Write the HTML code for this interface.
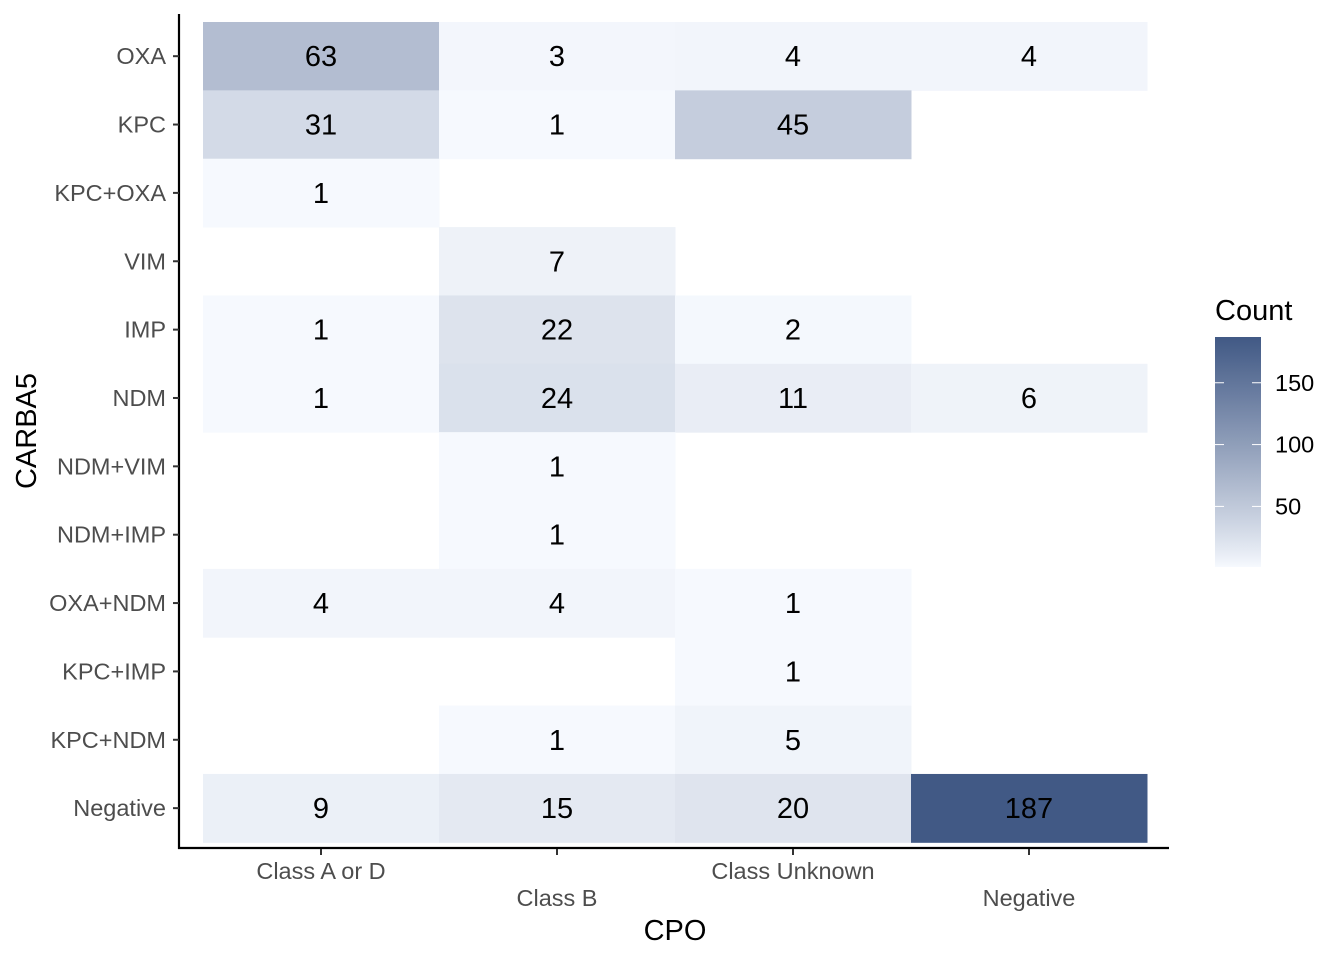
<!DOCTYPE html>
<html><head><meta charset="utf-8"><style>
body{margin:0;background:#fff;font-family:"Liberation Sans",sans-serif}
</style></head><body>
<svg id="c" width="1344" height="960" xmlns="http://www.w3.org/2000/svg"></svg>
<script>
const cols=["Class A or D","Class B","Class Unknown","Negative"];
const rows=["OXA","KPC","KPC+OXA","VIM","IMP","NDM","NDM+VIM","NDM+IMP","OXA+NDM","KPC+IMP","KPC+NDM","Negative"];
const counts=[
[63,3,4,4],
[31,1,45,null],
[1,null,null,null],
[null,7,null,null],
[1,22,2,null],
[1,24,11,6],
[null,1,null,null],
[null,1,null,null],
[4,4,1,null],
[null,null,1,null],
[null,1,5,null],
[9,15,20,187]];
const legendTicks=[50,100,150];
const vmin=1,vmax=187;
const NS="http://www.w3.org/2000/svg";
const svg=document.getElementById('c');
function mk(t,a,p){const e=document.createElementNS(NS,t);for(const k in a)e.setAttribute(k,a[k]);(p||svg).appendChild(e);return e;}
const x0=203,cw=236,y0=22,rh=68.36;
const xc=i=>x0+cw*(i+0.5), yc=j=>y0+rh*(j+0.5);
const lo=[246,249,254],hi=[65,89,133];
function col(v){let t=Math.pow((v-vmin)/(vmax-vmin),0.9);return 'rgb('+lo.map((c,k)=>Math.round(c+(hi[k]-c)*t)).join(',')+')';}
rows.forEach((r,j)=>cols.forEach((c,i)=>{const v=counts[j][i];if(v==null)return;
 const rc=mk('rect',{x:xc(i)-cw/2,y:yc(j)-rh/2,width:cw+0.5,height:rh+0.5,fill:col(v)});
 
 
 const tx=mk('text',{x:xc(i),y:yc(j)+10,'text-anchor':'middle','font-size':29,fill:'#000'});tx.textContent=v;
 
 
}));
const ya=mk('line',{x1:179,y1:14,x2:179,y2:849,stroke:'#000','stroke-width':2.2});

const xa=mk('line',{x1:178,y1:848,x2:1169,y2:848,stroke:'#000','stroke-width':2.2});

rows.forEach((r,j)=>{mk('line',{x1:173,x2:179,y1:yc(j),y2:yc(j),stroke:'#333','stroke-width':2});
 const t=mk('text',{x:166,y:yc(j)+8,'text-anchor':'end','font-size':23.5,fill:'#4d4d4d'});t.textContent=r;
 });
cols.forEach((c,i)=>{mk('line',{x1:xc(i),x2:xc(i),y1:849,y2:855,stroke:'#333','stroke-width':2});
 const t=mk('text',{x:xc(i),y:i%2?906:879,'text-anchor':'middle','font-size':23.5,fill:'#4d4d4d'});t.textContent=c;
 });
const xt=mk('text',{x:675,y:940,'text-anchor':'middle','font-size':29});xt.textContent='CPO';

const yt=mk('text',{x:36,y:431,'text-anchor':'middle','font-size':29,transform:'rotate(-90 36 431)'});yt.textContent='CARBA5';

const lt=mk('text',{x:1215,y:320,'font-size':29});lt.textContent='Count';

const defs=mk('defs',{});const g=mk('linearGradient',{id:'g',x1:0,y1:1,x2:0,y2:0},defs);
for(let k=0;k<=20;k++){const v=vmin+(vmax-vmin)*k/20;mk('stop',{offset:k/20,'stop-color':col(v)},g);}
const ly=v=>567-(v-vmin)/(vmax-vmin)*230;
const bar=mk('rect',{x:1215,y:337,width:46,height:230,fill:'url(#g)'});

legendTicks.forEach(v=>{const y=ly(v);
 mk('line',{x1:1215,x2:1224,y1:y,y2:y,stroke:'#fff','stroke-width':1});
 mk('line',{x1:1252,x2:1261,y1:y,y2:y,stroke:'#fff','stroke-width':1});
 const t=mk('text',{x:1275,y:y+8,'font-size':23.5,fill:'#000'});t.textContent=v;
 });
</script>
</body></html>
